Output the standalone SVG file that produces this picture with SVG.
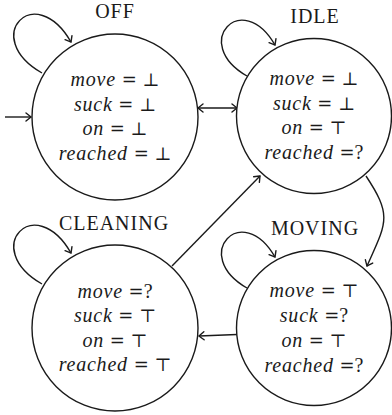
<svg xmlns="http://www.w3.org/2000/svg" width="392" height="415" viewBox="0 0 392 415">
  <style>
    .state { fill: #ffffff; stroke: #1a1a1a; stroke-width: 1.4; }
    .title { font-family: 'Liberation Serif', serif; font-size: 20px; letter-spacing: 1px; fill: #1a1a1a; text-anchor: middle; }
    .var { font-family: 'Liberation Serif', serif; font-size: 20px; fill: #1a1a1a; text-anchor: middle; }
    .it { font-style: italic; letter-spacing: 0.8px; }
    .sym { font-family: 'DejaVu Serif', serif; font-size: 18px; }
    .edge { fill: none; stroke: #1a1a1a; stroke-width: 1.4; }
  </style>
  <defs>
    <marker id="arr" markerUnits="userSpaceOnUse" markerWidth="12" markerHeight="12" viewBox="-8 -6 10 12" refX="0" refY="0" orient="auto-start-reverse">
      <path d="M-5,-4 Q-1.2,-1 0,0 Q-1.2,1 -5,4" fill="none" stroke="#1a1a1a" stroke-width="1.4" stroke-linecap="round"/>
    </marker>
  </defs>

  <g id="connectors">
    <path class="edge" d="M5,117 L31,117" marker-end="url(#arr)"/>
    <path class="edge" d="M198,108 L237,108" marker-start="url(#arr)" marker-end="url(#arr)"/>
    <path class="edge" d="M42,73 C-20.35,37 35,-20.35 71,42" marker-end="url(#arr)"/>
    <path class="edge" d="M247,76 C189.84,43 242,-12.16 275,45" marker-end="url(#arr)"/>
    <path class="edge" d="M42,284 C-20.35,248 35,190.65 71,253" marker-end="url(#arr)"/>
    <path class="edge" d="M247,288 C189.84,255 242,199.84 275,257" marker-end="url(#arr)"/>
    <path class="edge" d="M366,176 C392.4,215.8 386.7,222.3 367,266" marker-end="url(#arr)"/>
    <path class="edge" d="M172,266 L260,176" marker-end="url(#arr)"/>
    <path class="edge" d="M237,334.5 L199,336" marker-end="url(#arr)"/>
  </g>

  <g id="off">
    <circle class="state" cx="115" cy="117" r="83"/>
    <text class="title" x="115" y="18">OFF</text>
    <text class="var" x="115" y="86"><tspan class="it">move</tspan><tspan class="sym"> = ⊥</tspan></text>
    <text class="var" x="115" y="110.5"><tspan class="it">suck</tspan><tspan class="sym"> = ⊥</tspan></text>
    <text class="var" x="115" y="135"><tspan class="it">on</tspan><tspan class="sym"> = ⊥</tspan></text>
    <text class="var" x="115" y="159.5"><tspan class="it">reached</tspan><tspan class="sym"> = ⊥</tspan></text>
  </g>

  <g id="idle">
    <circle class="state" cx="314" cy="116" r="77.5"/>
    <text class="title" x="315" y="23">IDLE</text>
    <text class="var" x="314" y="85"><tspan class="it">move</tspan><tspan class="sym"> = ⊥</tspan></text>
    <text class="var" x="314" y="109.5"><tspan class="it">suck</tspan><tspan class="sym"> = ⊥</tspan></text>
    <text class="var" x="314" y="134"><tspan class="it">on</tspan><tspan class="sym"> = ⊤</tspan></text>
    <text class="var" x="314" y="158.5"><tspan class="it">reached</tspan><tspan class="sym"> =</tspan>?</text>
  </g>

  <g id="cleaning">
    <circle class="state" cx="115" cy="328" r="83"/>
    <text class="title" x="114" y="230">CLEANING</text>
    <text class="var" x="115" y="297.5"><tspan class="it">move</tspan><tspan class="sym"> =</tspan>?</text>
    <text class="var" x="115" y="322"><tspan class="it">suck</tspan><tspan class="sym"> = ⊤</tspan></text>
    <text class="var" x="115" y="346.5"><tspan class="it">on</tspan><tspan class="sym"> = ⊤</tspan></text>
    <text class="var" x="115" y="371"><tspan class="it">reached</tspan><tspan class="sym"> = ⊤</tspan></text>
  </g>

  <g id="moving">
    <circle class="state" cx="314" cy="328" r="77.5"/>
    <text class="title" x="315" y="235">MOVING</text>
    <text class="var" x="314" y="297"><tspan class="it">move</tspan><tspan class="sym"> = ⊤</tspan></text>
    <text class="var" x="314" y="321.5"><tspan class="it">suck</tspan><tspan class="sym"> =</tspan>?</text>
    <text class="var" x="314" y="346.5"><tspan class="it">on</tspan><tspan class="sym"> = ⊤</tspan></text>
    <text class="var" x="314" y="371.5"><tspan class="it">reached</tspan><tspan class="sym"> =</tspan>?</text>
  </g>
</svg>
